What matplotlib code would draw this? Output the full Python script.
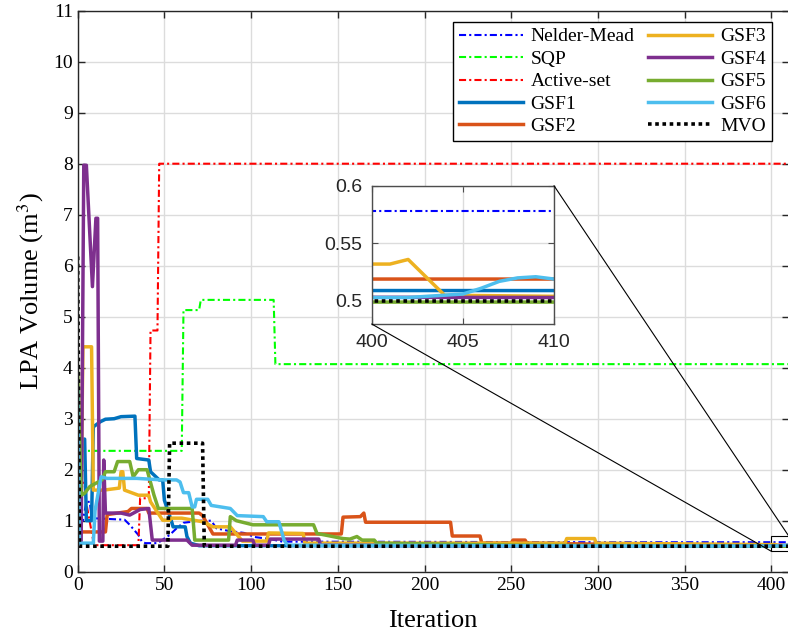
import numpy as np
import matplotlib.pyplot as plt
from matplotlib.patches import Rectangle, ConnectionPatch

plt.rcParams['font.family'] = ['Liberation Serif', 'DejaVu Serif']
plt.rcParams['mathtext.fontset'] = 'stix'

# convergence histories (iteration, LPA volume)
nm_it = [0, 3, 5, 7, 8, 27, 30, 35, 37, 39, 46, 53, 57, 61, 71, 77, 80, 87, 96, 102, 111, 118, 200, 300, 410]
nm_v = [1.0, 1.0, 1.37, 1.37, 1.05, 1.02, 0.92, 0.72, 0.59, 0.56, 0.56, 0.72, 0.85, 0.96, 1.0, 1.0, 0.85, 0.8,
        0.76, 0.68, 0.64, 0.59, 0.585, 0.578, 0.578]

sqp_it = [0, 60, 61, 70, 71, 113, 114, 410]
sqp_v = [2.37, 2.37, 5.13, 5.13, 5.33, 5.33, 4.07, 4.07]

as_it = [0, 4, 5, 9, 10, 35, 36, 41, 42, 46, 47, 410]
as_v = [1.8, 1.73, 1.34, 0.6, 0.52, 0.52, 1.44, 1.44, 4.73, 4.73, 8.0, 8.0]

g1_it = [0, 2, 4, 5, 8, 9, 13, 16, 21, 25, 33, 34, 41, 42, 47, 49, 50, 54, 55, 62, 63, 65, 70, 410]
g1_v = [0.5, 2.6, 2.6, 1.0, 1.0, 2.84, 2.94, 2.99, 3.0, 3.04, 3.05, 2.22, 2.19, 1.96, 1.8, 1.8, 1.4, 1.0, 0.88,
        0.88, 0.69, 0.56, 0.51, 0.509]

g2_it = [0, 2, 16, 17, 29, 31, 40, 41, 70, 72, 78, 152, 153, 163, 165, 166, 215, 216, 232, 233, 250, 251, 258,
         259, 300, 400, 410]
g2_v = [1.3, 0.78, 0.78, 1.12, 1.18, 1.24, 1.24, 1.15, 1.15, 1.1, 0.74, 0.74, 1.07, 1.08, 1.15, 0.97, 0.97, 0.7,
        0.7, 0.56, 0.56, 0.62, 0.62, 0.56, 0.54, 0.519, 0.519]

g3_it = [0, 2, 3, 8, 9, 15, 24, 25, 26, 27, 35, 41, 42, 49, 53, 54, 60, 72, 78, 88, 95, 109, 110, 130, 131, 281,
         282, 298, 299, 399, 401, 402, 404, 410]
g3_v = [0.6, 1.5, 4.41, 4.41, 1.6, 1.6, 1.64, 1.96, 1.96, 1.6, 1.5, 1.5, 1.37, 1.01, 1.01, 1.05, 1.05, 0.98, 0.88,
        0.88, 0.6, 0.6, 0.76, 0.75, 0.56, 0.56, 0.65, 0.65, 0.56, 0.532, 0.532, 0.536, 0.505, 0.504]

g4_it = [0, 2, 3.5, 5, 8.5, 10.5, 11.5, 12.5, 14.5, 15, 16, 25, 30, 36, 41, 43, 63, 66, 91, 92, 101, 102, 110,
         111, 139, 140, 300, 410]
g4_v = [0.55, 0.6, 7.97, 7.97, 5.59, 6.93, 6.93, 0.6, 0.6, 2.19, 1.15, 1.15, 1.11, 1.22, 1.24, 0.62, 0.62, 0.52,
        0.52, 0.62, 0.62, 0.52, 0.52, 0.64, 0.64, 0.52, 0.505, 0.503]

g5_it = [0, 2, 4, 7, 14, 16, 21, 23, 30, 32, 35, 40, 44, 46.5, 66, 67.5, 87, 88, 91.5, 101, 136, 138, 153, 157,
         161, 164, 171, 172.5, 250, 400, 410]
g5_v = [3.9, 1.5, 1.54, 1.67, 1.8, 1.96, 1.96, 2.16, 2.16, 1.86, 2.0, 2.0, 1.5, 1.24, 1.24, 0.62, 0.62, 1.08, 1.0,
        0.92, 0.92, 0.75, 0.65, 0.64, 0.69, 0.62, 0.62, 0.56, 0.52, 0.499, 0.499]

g6_it = [0, 1, 9, 10, 13.5, 17, 34, 49, 57, 59, 61, 64, 66, 67.5, 68.5, 75, 77, 88, 92, 107, 109, 116, 119, 121,
         300, 400, 401, 402, 403, 404, 405, 406, 407, 408, 409, 410]
g6_v = [3.6, 0.56, 0.56, 1.2, 1.86, 1.83, 1.83, 1.8, 1.8, 1.76, 1.55, 1.55, 1.27, 1.27, 1.42, 1.42, 1.3, 1.24,
        1.1, 1.08, 0.98, 0.98, 0.62, 0.52, 0.505, 0.503, 0.503, 0.503, 0.504, 0.505, 0.506, 0.511, 0.517, 0.52,
        0.521, 0.519]

mvo_it = [0, 1, 52, 53, 72, 73, 410]
mvo_v = [6.18, 0.5, 0.5, 2.52, 2.52, 0.5, 0.5]

dd = (0, (3.4, 1.5, 1, 1.5))
series = [
    ('Nelder-Mead', nm_it, nm_v, '#0000FF', dd, 1.5),
    ('SQP', sqp_it, sqp_v, '#00FF00', dd, 1.5),
    ('Active-set', as_it, as_v, '#FF0000', dd, 1.5),
    ('GSF1', g1_it, g1_v, '#0072BD', '-', 2.5),
    ('GSF2', g2_it, g2_v, '#D95319', '-', 2.5),
    ('GSF3', g3_it, g3_v, '#EDB120', '-', 2.5),
    ('GSF4', g4_it, g4_v, '#7E2F8E', '-', 2.5),
    ('GSF5', g5_it, g5_v, '#77AC30', '-', 2.5),
    ('GSF6', g6_it, g6_v, '#4DBEEE', '-', 2.5),
    ('MVO', mvo_it, mvo_v, 'black', (0, (1, 1)), 2.6),
]

fig = plt.figure(figsize=(7.88, 6.38), dpi=100)
ax = fig.add_axes([0.0986, 0.1039, 0.9023, 0.8793])

for name, it, v, c, ls, lw in series:
    ax.plot(it, v, color=c, linestyle=ls, linewidth=lw, label=name)

ax.set_xlim(0, 410)
ax.set_ylim(0, 11)
ax.set_xticks(np.arange(0, 401, 50))
ax.set_yticks(np.arange(0, 12, 1))
ax.grid(True, color='#dcdcdc', linewidth=1.0)
ax.set_axisbelow(True)
ax.tick_params(direction='in', length=5, width=1, top=True, right=True, labelsize=14, colors='#262626')
ax.tick_params(labelcolor='black')
for s in ax.spines.values():
    s.set_color('#262626')
    s.set_linewidth(1.0)
ax.set_xlabel('Iteration', fontsize=19, labelpad=12)
ax.set_ylabel('LPA Volume (m$^{3}$)', fontsize=19, labelpad=5)

leg = ax.legend(ncol=2, loc='upper right', bbox_to_anchor=(0.976, 0.980), borderaxespad=0,
                fontsize=14, handlelength=3.3, handletextpad=0.4, columnspacing=0.7,
                labelspacing=0.25, fancybox=False, framealpha=1, edgecolor='black',
                borderpad=0.3)
leg.get_frame().set_linewidth(1.0)

# zoom box around the final iterations
ax.add_patch(Rectangle((400, 0.4), 10, 0.3, fill=False, edgecolor='black', linewidth=0.8, clip_on=False))

axin = fig.add_axes([371.7 / 788, 1 - 324 / 638, (554 - 371.7) / 788, (324 - 185.7) / 638])
for name, it, v, c, ls, lw in series:
    axin.plot(it, v, color=c, linestyle=ls, linewidth=lw)
axin.set_xlim(400, 410)
axin.set_ylim(0.48, 0.6)
axin.set_xticks([400, 405, 410])
axin.set_xticklabels(['400', '405', '410'])
axin.set_yticks([0.5, 0.55, 0.6])
axin.set_yticklabels(['0.5', '0.55', '0.6'])
axin.grid(True, color='#dcdcdc', linewidth=1.0)
axin.set_axisbelow(True)
axin.tick_params(direction='in', length=4, top=True, right=True, labelsize=14, colors='#4d4d4d', pad=7)
axin.tick_params(labelcolor='#262626')
for lab in axin.get_xticklabels() + axin.get_yticklabels():
    lab.set_family(['Liberation Sans', 'DejaVu Sans'])
for s in axin.spines.values():
    s.set_color('#4d4d4d')
    s.set_linewidth(1.0)

for xa, ya, xb, yb in [(410, 0.6, 410, 0.7), (400, 0.48, 400, 0.4)]:
    con = ConnectionPatch(xyA=(xa, ya), coordsA=axin.transData, xyB=(xb, yb), coordsB=ax.transData,
                          color='black', linewidth=0.8)
    fig.add_artist(con)

fig.savefig('out.png', dpi=100)
